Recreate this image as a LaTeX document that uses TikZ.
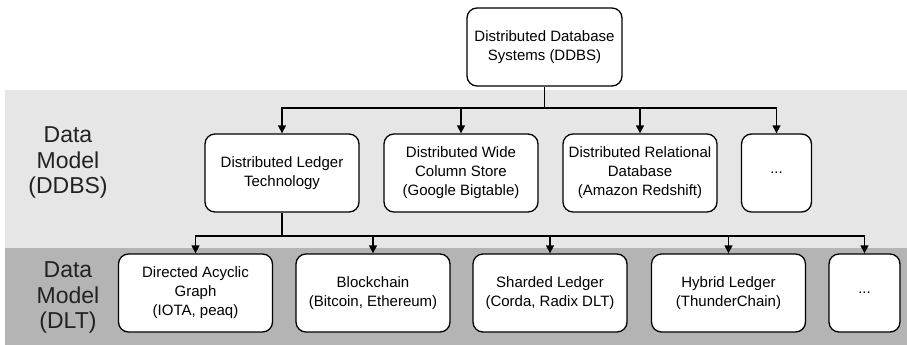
\documentclass[tikz,border=0pt]{standalone}
\usepackage{fontspec}
\setmainfont{Liberation Sans}
\usetikzlibrary{arrows.meta}
\definecolor{bandlight}{RGB}{230,230,230}
\definecolor{banddark}{RGB}{180,180,180}
\definecolor{labeltext}{RGB}{34,34,34}
\begin{document}
\begin{tikzpicture}[x=1pt,y=-1pt,
  box/.style={draw=black, fill=white, line width=1.3pt, rounded corners=10pt,
    align=center, inner sep=0pt, minimum height=78pt,
    font=\fontsize{15}{19}\selectfont},
  wide/.style={box, minimum width=154pt},
  narrow/.style={box, minimum width=70pt},
  wire/.style={line width=1.3pt},
  link/.style={wire, -{Triangle[length=8pt,width=8pt]}},
  rowlabel/.style={align=center, text=labeltext, inner sep=0pt,
    font=\fontsize{23}{25.5}\selectfont}]
\useasboundingbox (0,0) rectangle (907,345);

% level bands
\fill[bandlight] (5,90) rectangle (907,248);
\fill[banddark] (5,248) rectangle (907,345);

\node[rowlabel] (lblddbs) at (68,162.5) {Data\\Model\\(DDBS)};
\node[rowlabel] (lbldlt) at (68,297.5) {Data\\Model\\(DLT)};

% root
\node[box, minimum width=155pt] (root) at (544.5,47) {Distributed Database\\Systems (DDBS)};

% DDBS data models
\node[wide] (dlt) at (282,173) {Distributed Ledger\\Technology};
\node[wide] (wcs) at (461,173) {Distributed Wide\\Column Store\\(Google Bigtable)};
\node[wide] (rel) at (640,173) {Distributed Relational\\Database\\(Amazon Redshift)};
\node[narrow] (more1) at (776.5,173) {...};

% DLT data models
\node[wide] (dag) at (195.5,293) {Directed Acyclic\\Graph\\(IOTA, peaq)};
\node[wide] (bc) at (373,293) {Blockchain\\(Bitcoin, Ethereum)};
\node[wide] (shard) at (550,293) {Sharded Ledger\\(Corda, Radix DLT)};
\node[wide] (hyb) at (728.5,293) {Hybrid Ledger\\(ThunderChain)};
\node[narrow, minimum width=71pt] (more2) at (864.5,293) {...};

% connectors
\coordinate (bus1) at (544.5,108);
\coordinate (bus2) at (282,236);
\draw[wire] (root.south) -- (bus1);
\foreach \t in {dlt,wcs,rel,more1}
  \draw[link] (bus1) -| (\t.north);
\draw[wire] (dlt.south) -- (bus2);
\foreach \t in {dag,bc,shard,hyb,more2}
  \draw[link] (bus2) -| (\t.north);
\end{tikzpicture}
\end{document}
